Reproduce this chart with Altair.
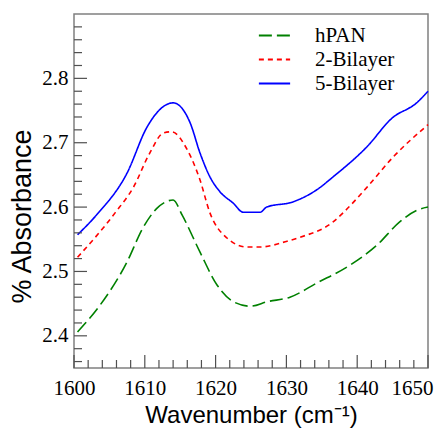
import altair as alt
import pandas as pd

# hPAN
x_hpan = [1600.5, 1603.7, 1607.5, 1609.7, 1611.7, 1614.0, 1615.3, 1617.8, 1620.2, 1622.5, 1624.9, 1627.3, 1630.5, 1634.3, 1639.0, 1642.8, 1646.0, 1648.4, 1650.0]
y_hpan = [2.406, 2.448, 2.515, 2.567, 2.598, 2.611, 2.587, 2.530, 2.479, 2.453, 2.446, 2.453, 2.460, 2.482, 2.510, 2.541, 2.577, 2.595, 2.600]
# 2-Bilayer
x_bi2 = [1600.5, 1605.8, 1608.4, 1610.7, 1612.6, 1613.8, 1616.0, 1617.8, 1619.2, 1621.6, 1624.4, 1626.3, 1630.1, 1631.9, 1636.6, 1638.0, 1641.4, 1645.1, 1650.0]
y_bi2 = [2.522, 2.591, 2.631, 2.684, 2.715, 2.717, 2.689, 2.642, 2.591, 2.552, 2.538, 2.538, 2.547, 2.553, 2.577, 2.591, 2.631, 2.678, 2.728]
# 5-Bilayer
x_bi5 = [1600.5, 1603.2, 1607.5, 1610.3, 1612.6, 1614.0, 1616.4, 1617.8, 1619.2, 1620.6, 1622.5, 1623.9, 1626.3, 1627.2, 1630.9, 1634.3, 1636.6, 1641.4, 1644.9, 1648.4, 1650.0]
y_bi5 = [2.557, 2.588, 2.653, 2.724, 2.756, 2.762, 2.731, 2.684, 2.647, 2.624, 2.606, 2.592, 2.592, 2.600, 2.608, 2.627, 2.647, 2.694, 2.738, 2.762, 2.780]

series = ["hPAN", "2-Bilayer", "5-Bilayer"]
colors = ["#008000", "#ff0000", "#0000ff"]
dashes = [[13, 5], [5, 4], [1, 0]]

x_major = [1600, 1610, 1620, 1630, 1640, 1650]
x_minor = [v for v in range(1602, 1650, 2) if v % 10 != 0]
y_major = [2.4, 2.5, 2.6, 2.7, 2.8]
y_minor = [2.36, 2.38, 2.42, 2.44, 2.46, 2.48, 2.52, 2.54, 2.56, 2.58, 2.62, 2.64, 2.66, 2.68, 2.72, 2.74, 2.76, 2.78, 2.82, 2.84, 2.86, 2.88]

rows = []
for name, xs_, ys_ in [("hPAN", x_hpan, y_hpan), ("2-Bilayer", x_bi2, y_bi2), ("5-Bilayer", x_bi5, y_bi5)]:
    for a, b in zip(xs_, ys_):
        rows.append({"wn": a, "abs": b, "s": name})
df = pd.DataFrame(rows)

xs = alt.Scale(domain=[1600, 1650], nice=False, zero=False)
ys = alt.Scale(domain=[2.35, 2.9], nice=False, zero=False)

serif = "Liberation Serif"
sans = "Liberation Sans"

leg = alt.Legend(title=None, orient="none", legendX=187, legendY=8)

lines = alt.Chart(df).mark_line(strokeWidth=1.6, interpolate="monotone").encode(
    x=alt.X("wn:Q", scale=xs, title="Wavenumber (cm⁻¹)",
            axis=alt.Axis(values=x_major, format="d", tickSize=0, labelPadding=9, titlePadding=5,
                          labelFlush=False, labelFont=serif, labelFontSize=21,
                          labelAlign=alt.condition("datum.value == 1650", alt.value("right"), alt.value("center")),
                          labelOffset=alt.condition("datum.value == 1650", alt.value(5), alt.value(0)),
                          titleFont=sans, titleFontSize=24)),
    y=alt.Y("abs:Q", scale=ys, title="% Absorbance",
            axis=alt.Axis(values=y_major, format=".1f", tickSize=0, labelPadding=6, titlePadding=5,
                          labelFlush=False, labelFont=serif, labelFontSize=21,
                          titleFont=sans, titleFontSize=27, titleY=202)),
    color=alt.Color("s:N", scale=alt.Scale(domain=series, range=colors), sort=series, legend=leg),
    strokeDash=alt.StrokeDash("s:N", scale=alt.Scale(domain=series, range=dashes), sort=series, legend=leg),
)

tick_color = "#505050"
xmaj = alt.Chart(pd.DataFrame({"v": x_major})).mark_rule(color=tick_color, strokeWidth=1.2).encode(
    x=alt.X("v:Q", scale=xs), y=alt.value(354), y2=alt.value(341))
xmin = alt.Chart(pd.DataFrame({"v": x_minor})).mark_rule(color=tick_color, strokeWidth=1.2).encode(
    x=alt.X("v:Q", scale=xs), y=alt.value(354), y2=alt.value(346))
ymaj = alt.Chart(pd.DataFrame({"v": y_major})).mark_rule(color=tick_color, strokeWidth=1.2).encode(
    y=alt.Y("v:Q", scale=ys), x=alt.value(0), x2=alt.value(13))
ymin = alt.Chart(pd.DataFrame({"v": y_minor})).mark_rule(color=tick_color, strokeWidth=1.2).encode(
    y=alt.Y("v:Q", scale=ys), x=alt.value(0), x2=alt.value(8))

chart = alt.layer(lines, xmaj, xmin, ymaj, ymin).properties(
    width=354, height=354,
    autosize=alt.AutoSizeParams(type="none"),
    padding={"left": 66, "top": 6, "right": 6, "bottom": 60},
).configure_view(stroke="#808080", strokeWidth=1.5).configure_axis(
    domain=False, grid=False, labelColor="#000000", labelFont=serif,
    titleFontWeight="normal", titleColor="#000000",
).configure_legend(
    labelFont=serif, labelFontSize=21, labelColor="#000000",
    symbolType="M-1.25,0H1.25", symbolSize=625, symbolStrokeWidth=1.8, labelOffset=27, rowPadding=0,
)

chart.save("out.html", embed_options={"renderer": "svg", "actions": False})
